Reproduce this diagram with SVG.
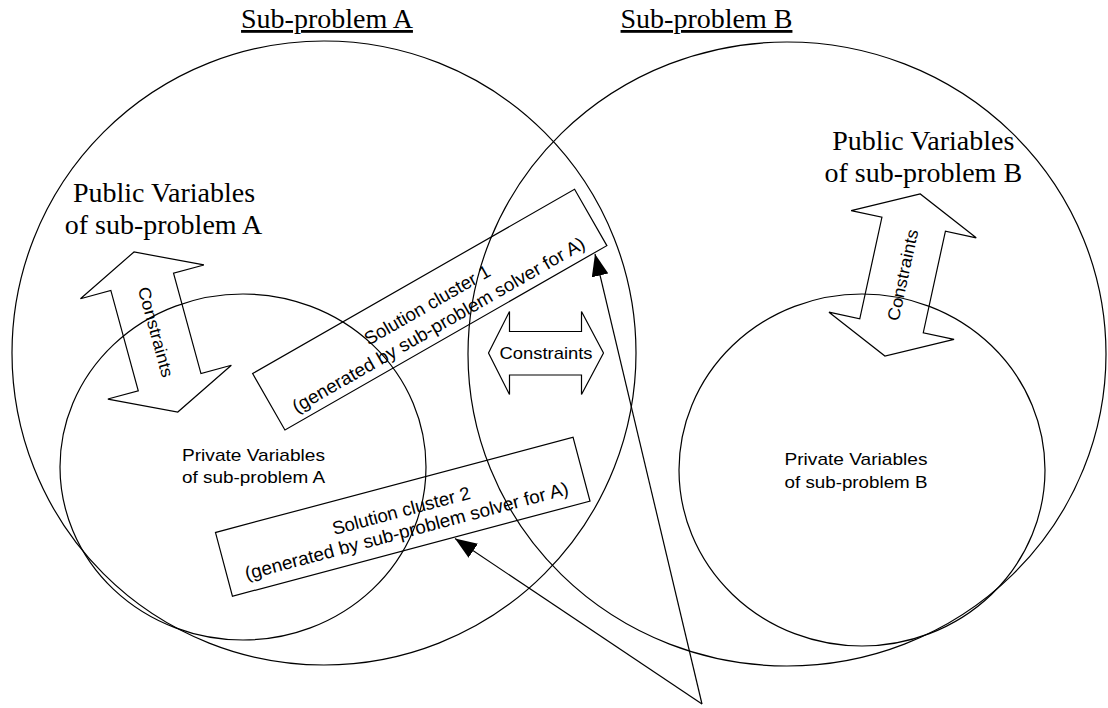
<svg xmlns="http://www.w3.org/2000/svg" width="1108" height="708" viewBox="0 0 1108 708">
<defs>
<style>
.ln{fill:none;stroke:#000;stroke-width:1.2}
.serif{font-family:"Liberation Serif","Times New Roman",serif;font-size:28px;fill:#000;text-anchor:middle}
.sans{font-family:"Liberation Sans",Arial,sans-serif;font-size:17px;fill:#000;text-anchor:middle}
.sol{font-family:"Liberation Sans",Arial,sans-serif;font-size:18.5px;fill:#000;text-anchor:middle}
</style>
<marker id="ah" markerUnits="userSpaceOnUse" markerWidth="22" markerHeight="17" refX="22" refY="8.5" orient="auto">
<path d="M0,0 L22,8.5 L0,17 Z" fill="#000"/>
</marker>
<path id="dbl" d="M0,-83 L-64,-52 L-32.5,-52 L-32.5,52 L-64,52 L0,83 L64,52 L32.5,52 L32.5,-52 L64,-52 Z"/>
</defs>
<rect width="1108" height="708" fill="#fff"/>

<g id="subproblem-A">
<ellipse class="ln" cx="324" cy="353" rx="312" ry="312"/>
<text class="serif" x="327" y="28" text-decoration="underline">Sub-problem A</text>
</g>

<g id="subproblem-B">
<ellipse class="ln" cx="787" cy="354" rx="319" ry="312"/>
<text class="serif" x="706.5" y="28" text-decoration="underline">Sub-problem B</text>
</g>

<g id="public-A">
<text class="serif" x="164" y="201.5">Public Variables</text>
<text class="serif" x="163.5" y="234">of sub-problem A</text>
</g>

<g id="public-B">
<text class="serif" x="923.3" y="150">Public Variables</text>
<text class="serif" x="923.3" y="182">of sub-problem B</text>
</g>

<g id="private-A">
<ellipse class="ln" cx="243" cy="467" rx="183" ry="173"/>
<text class="sans" x="253.5" y="461" textLength="143" lengthAdjust="spacingAndGlyphs">Private Variables</text>
<text class="sans" x="253.5" y="483" textLength="143" lengthAdjust="spacingAndGlyphs">of sub-problem A</text>
</g>

<g id="private-B">
<ellipse class="ln" cx="862" cy="470" rx="183" ry="176"/>
<text class="sans" x="856" y="465" textLength="143" lengthAdjust="spacingAndGlyphs">Private Variables</text>
<text class="sans" x="856" y="487.5" textLength="143" lengthAdjust="spacingAndGlyphs">of sub-problem B</text>
</g>

<g id="constraints-A" transform="translate(155.9,332) rotate(-15.3)">
<use href="#dbl" class="ln"/>
<text class="sans" transform="rotate(90)" x="0" y="6" textLength="93" lengthAdjust="spacingAndGlyphs">Constraints</text>
</g>

<g id="constraints-B" transform="translate(902.6,275) rotate(12.3)">
<use href="#dbl" class="ln"/>
<text class="sans" transform="rotate(-90)" x="0" y="6" textLength="93" lengthAdjust="spacingAndGlyphs">Constraints</text>
</g>

<g id="constraints-AB">
<path class="ln" d="M488.5,353 L509.5,311.5 L509.5,331.5 L581.5,331.5 L581.5,311.5 L603.5,353 L581.5,394.5 L581.5,375 L509.5,375 L509.5,394.5 Z"/>
<text class="sans" x="546" y="358.5" textLength="93" lengthAdjust="spacingAndGlyphs">Constraints</text>
</g>

<g id="solution-cluster-1" transform="translate(429.75,309.6) rotate(-29.8)">
<rect class="ln" x="-185.5" y="-32.5" width="371" height="65"/>
<text class="sol" x="0" y="1" textLength="142" lengthAdjust="spacingAndGlyphs">Solution cluster 1</text>
<text class="sol" x="0" y="24" textLength="334" lengthAdjust="spacingAndGlyphs">(generated by sub-problem solver for A)</text>
</g>

<g id="solution-cluster-2" transform="translate(402.75,516.8) rotate(-14.9)">
<rect class="ln" x="-185" y="-33" width="370" height="66"/>
<text class="sol" x="0" y="0" textLength="142" lengthAdjust="spacingAndGlyphs">Solution cluster 2</text>
<text class="sol" x="0" y="21" textLength="334" lengthAdjust="spacingAndGlyphs">(generated by sub-problem solver for A)</text>
</g>

<g id="connectors">
<line class="ln" x1="702" y1="704" x2="595" y2="254" marker-end="url(#ah)"/>
<line class="ln" x1="702" y1="704" x2="455" y2="538.5" marker-end="url(#ah)"/>
</g>
</svg>
